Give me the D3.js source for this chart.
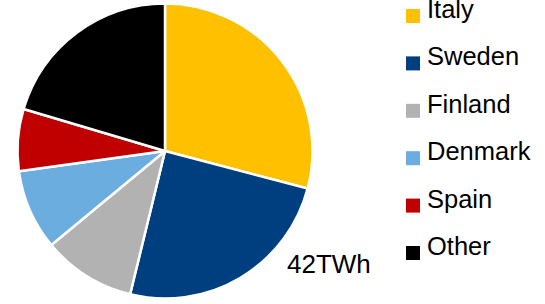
<!DOCTYPE html>
<html>
<head>
<meta charset="utf-8">
<script src="https://cdn.jsdelivr.net/npm/d3@7"></script>
<style>
  body { margin: 0; background: #fff; }
  text { font-family: "Liberation Sans", Arial, sans-serif; fill: #000; }
</style>
</head>
<body>
<svg id="chart" width="545" height="304"></svg>
<script>
const countries = ['Italy', 'Sweden', 'Finland', 'Denmark', 'Spain', 'Other'];
const shares = [29.1, 24.7, 10.2, 8.8, 6.8, 20.4];
const colours = ['#ffc000', '#003f7f', '#b2b2b2', '#6caddf', '#c00000', '#000000'];
const totalLabel = '42TWh';

const svg = d3.select('#chart');

const cx = 165, cy = 151, radius = 147.5;

const pie = d3.pie().sort(null).value(function(d) { return d.value; });
const arc = d3.arc().innerRadius(0).outerRadius(radius);

const data = countries.map(function(name, i) {
  return { name: name, value: shares[i] };
});

const color = d3.scaleOrdinal().domain(countries).range(colours);

svg.append('g')
  .attr('transform', 'translate(' + cx + ',' + cy + ')')
  .selectAll('path')
  .data(pie(data))
  .enter()
  .append('path')
  .attr('d', arc)
  .attr('fill', function(d) { return color(d.data.name); })
  .attr('stroke', '#fff')
  .attr('stroke-width', 2.5)
  .attr('stroke-linejoin', 'round');

svg.append('text')
  .attr('x', 287)
  .attr('y', 273)
  .style('font-size', '26px')
  .text(totalLabel);

// legend
const row = d3.scalePoint().domain(countries).range([16, 253]);

const legend = svg.append('g')
  .selectAll('g')
  .data(countries)
  .enter()
  .append('g')
  .attr('transform', function(d) { return 'translate(406,' + row(d) + ')'; });

legend.append('rect')
  .attr('x', 0)
  .attr('y', -7)
  .attr('width', 14)
  .attr('height', 14)
  .attr('fill', function(d) { return color(d); });

legend.append('text')
  .attr('x', 21)
  .attr('y', 2)
  .style('font-size', '25.5px')
  .text(String);
</script>
</body>
</html>
